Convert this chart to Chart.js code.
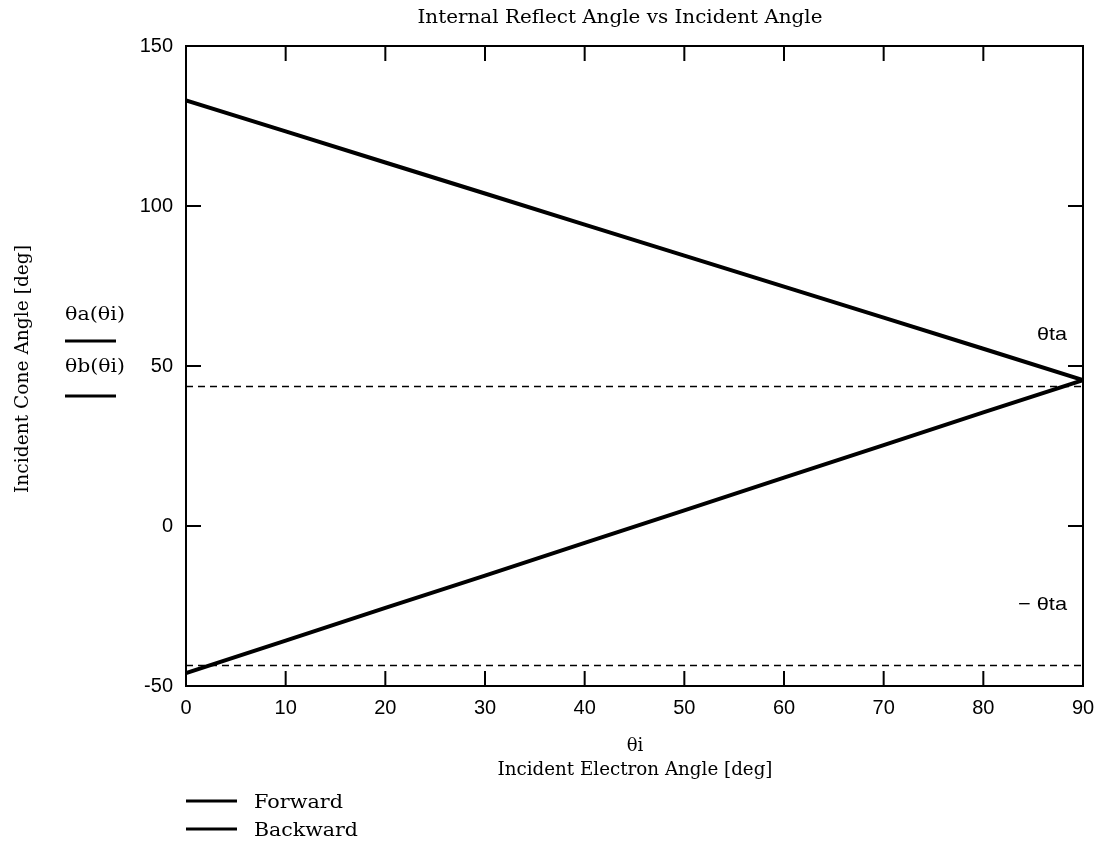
<!DOCTYPE html>
<html>
<head>
<meta charset="utf-8">
<script src="https://cdn.jsdelivr.net/npm/chart.js@4"></script>
<style>
  html, body { margin: 0; padding: 0; background: #fff; }
  canvas { display: block; }
</style>
</head>
<body>
<canvas id="chart" width="1098" height="842"></canvas>
<script>
// values
var incidentAngle = [0, 10, 20, 30, 40, 50, 60, 70, 80, 90];
var forwardAngle = [133, 123.3, 113.6, 103.9, 94.2, 84.5, 74.8, 65.1, 55.4, 45.6];
var backwardAngle = [-46, -35.8, -25.6, -15.5, -5.3, 4.9, 15.1, 25.3, 35.5, 45.6];
var taX = [0, 90];
var taPos = [43.6, 43.6];
var taNeg = [-43.6, -43.6];
var xTicks = [0, 10, 20, 30, 40, 50, 60, 70, 80, 90];
var yTicks = [-50, 0, 50, 100, 150];

function pts(xs, ys) {
    return xs.map(function (x, i) { return { x: x, y: ys[i] }; });
}

// draw text, squeezed/stretched to a given width when asked
function putText(ctx, str, x, y, font, align, width) {
    ctx.save();
    ctx.font = font;
    ctx.fillStyle = '#000';
    ctx.textBaseline = 'middle';
    ctx.textAlign = 'left';
    var w = ctx.measureText(str).width;
    var sx = width ? width / w : 1;
    var left = x;
    if (align === 'center') left = x - w * sx / 2;
    if (align === 'right') left = x - w * sx;
    ctx.translate(left, y);
    ctx.scale(sx, 1);
    ctx.fillText(str, 0, 0);
    ctx.restore();
}

function hLine(ctx, x1, x2, y, w) {
    ctx.save();
    ctx.strokeStyle = '#000';
    ctx.lineWidth = w;
    ctx.beginPath();
    ctx.moveTo(x1, y);
    ctx.lineTo(x2, y);
    ctx.stroke();
    ctx.restore();
}

var framePlugin = {
    id: 'frame',
    afterDatasetsDraw: function (chart) {
        var ctx = chart.ctx;
        var a = chart.chartArea;
        var xs = chart.scales.x, ys = chart.scales.y;
        var len = 15;
        ctx.save();
        ctx.strokeStyle = '#000';
        ctx.lineWidth = 2;
        ctx.strokeRect(a.left, a.top, a.right - a.left, a.bottom - a.top);
        ctx.beginPath();
        // inward ticks on all four sides
        xs.ticks.forEach(function (t) {
            var px = xs.getPixelForValue(t.value);
            ctx.moveTo(px, a.bottom); ctx.lineTo(px, a.bottom - len);
            ctx.moveTo(px, a.top); ctx.lineTo(px, a.top + len);
        });
        ys.ticks.forEach(function (t) {
            var py = ys.getPixelForValue(t.value);
            ctx.moveTo(a.left, py); ctx.lineTo(a.left + len, py);
            ctx.moveTo(a.right, py); ctx.lineTo(a.right - len, py);
        });
        ctx.stroke();
        ctx.restore();
    },
    afterDraw: function (chart) {
        var ctx = chart.ctx;
        var serif = '"DejaVu Serif", serif';
        var sans = '"Liberation Sans", Arial, sans-serif';

        putText(ctx, 'Internal Reflect Angle vs Incident Angle', 620, 18, '19px ' + serif, 'center', 405);
        putText(ctx, 'θi', 635, 746, '18px ' + serif, 'center');
        putText(ctx, 'Incident Electron Angle [deg]', 635, 770, '18px ' + serif, 'center', 275);

        ctx.save();
        ctx.translate(23, 369);
        ctx.rotate(-Math.PI / 2);
        putText(ctx, 'Incident Cone Angle [deg]', 0, 0, '18px ' + serif, 'center', 248);
        ctx.restore();

        putText(ctx, 'θa(θi)', 65, 315, '18px ' + serif, 'left', 60);
        hLine(ctx, 65, 116, 341, 3);
        putText(ctx, 'θb(θi)', 65, 367, '18px ' + serif, 'left', 60);
        hLine(ctx, 65, 116, 396, 3);

        putText(ctx, 'θta', 1037, 335, '19px ' + sans, 'left', 30);
        putText(ctx, '− θta', 1067, 605, '19px ' + sans, 'right', 49);

        hLine(ctx, 186, 237, 801, 3);
        putText(ctx, 'Forward', 254, 803, '18px ' + serif, 'left', 89);
        hLine(ctx, 186, 237, 829, 3);
        putText(ctx, 'Backward', 254, 831, '18px ' + serif, 'left', 104);
    }
};

var tickFont = { family: '"Liberation Sans", Arial, sans-serif', size: 20 };

new Chart(document.getElementById('chart').getContext('2d'), {
    type: 'scatter',
    data: {
        datasets: [
            { label: 'Forward', data: pts(incidentAngle, forwardAngle), showLine: true, borderColor: '#000', borderWidth: 4, pointRadius: 0 },
            { label: 'Backward', data: pts(incidentAngle, backwardAngle), showLine: true, borderColor: '#000', borderWidth: 4, pointRadius: 0 },
            { label: 'θta', data: pts(taX, taPos), showLine: true, borderColor: '#000', borderWidth: 1.5, borderDash: [7, 5], pointRadius: 0 },
            { label: '− θta', data: pts(taX, taNeg), showLine: true, borderColor: '#000', borderWidth: 1.5, borderDash: [7, 5], pointRadius: 0 }
        ]
    },
    options: {
        responsive: false,
        animation: false,
        layout: { padding: { left: 0, top: 46, right: 15, bottom: 0 } },
        plugins: {
            legend: { display: false },
            tooltip: { enabled: false },
            title: { display: false }
        },
        scales: {
            x: {
                type: 'linear',
                min: 0,
                max: 90,
                afterBuildTicks: function (s) { s.ticks = xTicks.map(function (v) { return { value: v }; }); },
                afterFit: function (s) {
                    s.height = 156;
                    s.paddingLeft = 0;
                    s.paddingRight = 0;
                },
                ticks: { color: '#000', font: tickFont, padding: 10, maxRotation: 0 },
                grid: { display: false, drawTicks: false },
                border: { display: false }
            },
            y: {
                type: 'linear',
                min: -50,
                max: 150,
                afterBuildTicks: function (s) { s.ticks = yTicks.map(function (v) { return { value: v }; }); },
                afterFit: function (s) { s.width = 186; },
                ticks: { color: '#000', font: tickFont, padding: 13 },
                grid: { display: false, drawTicks: false },
                border: { display: false }
            }
        }
    },
    plugins: [framePlugin]
});
</script>
</body>
</html>
